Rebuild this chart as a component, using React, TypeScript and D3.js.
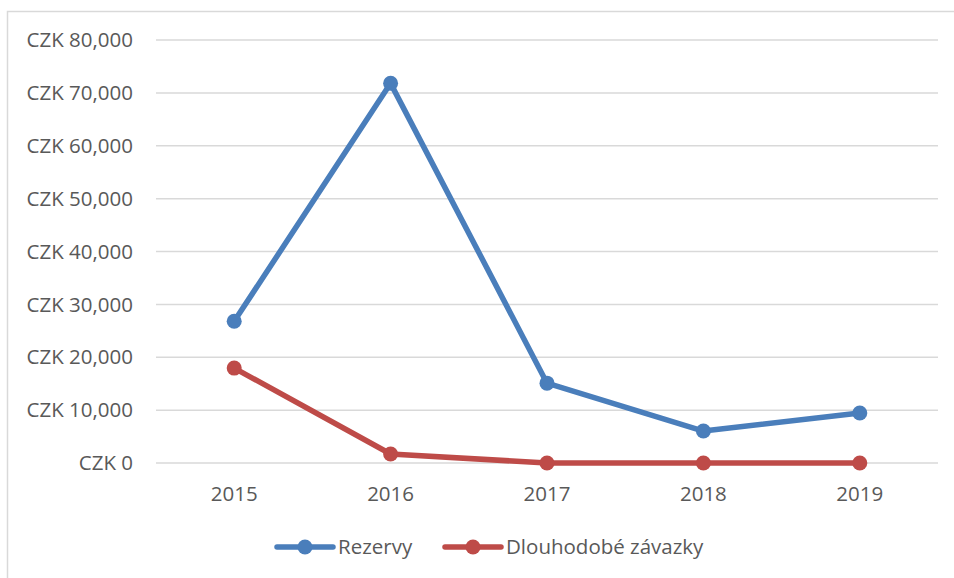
import React from "react";
import * as d3 from "d3";

const years = ["2015", "2016", "2017", "2018", "2019"];
const rezervy = [26800, 71800, 15100, 6050, 9450];
const zavazky = [17950, 1700, 0, 0, 0];
const yTicks = [0, 10000, 20000, 30000, 40000, 50000, 60000, 70000, 80000];
const seriesNames = ["Rezervy", "Dlouhodobé závazky"];
const seriesColors = ["#4a7ebb", "#be4b48"];

export default function App() {
  const W = 954, H = 578;
  const left = 156, right = 938, top = 40, bottom = 463;
  const x = d3.scaleBand<string>().domain(years).range([left, right]);
  const y = d3.scaleLinear().domain([0, 80000]).range([bottom, top]);
  const line = d3.line<number>().x((_, i) => (x(years[i]) as number) + x.bandwidth() / 2).y(d => y(d));
  const fmt = (v: number) => "CZK " + d3.format(",")(v);
  const font = "'Open Sans', sans-serif";
  const fs = 20.5;
  const series = [rezervy, zavazky];
  const legendX = [277, 445];
  return (
    <svg width={W} height={H} style={{ position: "absolute", left: 0, top: 0 }} fontFamily={font}>
      <rect x={0} y={0} width={W} height={H} fill="#fff" />
      <rect x={7.5} y={11.5} width={W + 10} height={H + 10} fill="none" stroke="#d9d9d9" strokeWidth={1.5} />
      {yTicks.map(t => (
        <g key={t}>
          <line x1={left} x2={right} y1={y(t)} y2={y(t)} stroke="#d9d9d9" strokeWidth={1.5} />
          <text x={133} y={y(t)} dy="0.35em" textAnchor="end" fontSize={fs} fill="#595959" textLength={undefined}>{fmt(t)}</text>
        </g>
      ))}
      {years.map(yr => (
        <text key={yr} x={(x(yr) as number) + x.bandwidth() / 2} y={494} dy="0.35em" textAnchor="middle" fontSize={fs} fill="#595959">{yr}</text>
      ))}
      {series.map((s, si) => (
        <g key={si}>
          <path d={line(s) || ""} fill="none" stroke={seriesColors[si]} strokeWidth={5.5} strokeLinejoin="round" strokeLinecap="round" />
          {s.map((v, i) => (
            <circle key={i} cx={(x(years[i]) as number) + x.bandwidth() / 2} cy={y(v)} r={7.5} fill={seriesColors[si]} />
          ))}
        </g>
      ))}
      {seriesNames.map((n, i) => (
        <g key={n}>
          <line x1={legendX[i]} x2={legendX[i] + 56} y1={547} y2={547} stroke={seriesColors[i]} strokeWidth={5.5} strokeLinecap="round" />
          <circle cx={legendX[i] + 28} cy={547} r={7.5} fill={seriesColors[i]} />
          <text x={legendX[i] + 61} y={547} dy="0.35em" fontSize={fs} fill="#595959">{n}</text>
        </g>
      ))}
    </svg>
  );
}
